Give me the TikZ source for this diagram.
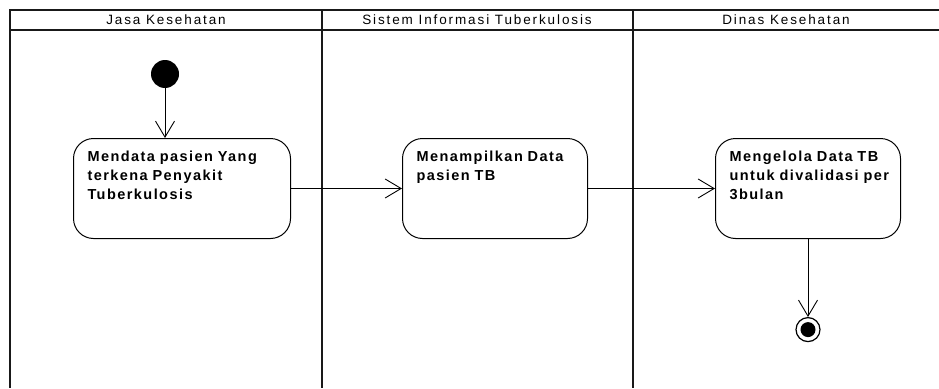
\documentclass[tikz,border=0pt]{standalone}
\usepackage{fontspec}
\setmainfont{Liberation Sans}
\newfontfamily\actfont[LetterSpace=10]{Liberation Sans}
\newfontfamily\lanefont[LetterSpace=14]{Liberation Sans}
\usetikzlibrary{positioning,arrows.meta}

\tikzset{
	lane/.style={line width=2.8pt, black!90},
	lanetitle/.style={font=\lanefont\fontsize{13.5}{15}\selectfont, inner sep=0pt},
	activity/.style={draw, line width=1pt, rounded corners=20pt, align=left,
		font=\actfont\bfseries\fontsize{14.5}{19}\selectfont,
		inner xsep=14pt, inner ysep=12pt, text height=10.5pt, text depth=65.5pt},
	startnode/.style={circle, fill=black, minimum size=28pt, inner sep=0pt},
	endnode/.style={circle, draw, line width=1.2pt, fill=white, minimum size=24pt, inner sep=0pt},
	flow/.style={-{Straight Barb[length=16pt,width=19pt]}, line width=0.9pt},
}

\begin{document}
\begin{tikzpicture}[x=1pt,y=-1pt]
	\useasboundingbox (0,0) rectangle (939,388);
	% swimlanes
	\draw[lane] (939,10) -- (10,10) -- (10,388);
	\draw[lane] (10,30) -- (939,30);
	\draw[lane] (322,10) -- (322,388);
	\draw[lane] (633,10) -- (633,388);
	\node[lanetitle] (jasa) at (166,20) {Jasa Kesehatan};
	\node[lanetitle] (sistem) at (477,20) {Sistem Informasi Tuberkulosis};
	\node[lanetitle] (dinas) at (786,20) {Dinas Kesehatan};
	%
	\node[startnode] (start) at (165,74) {};
	\node[activity, text width=189pt, anchor=north west] (mendata) at (73,138)
		{Mendata pasien Yang\\terkena Penyakit\\Tuberkulosis};
	\node[activity, text width=157pt, right=111pt of mendata] (tampil)
		{Menampilkan Data\\pasien TB};
	\node[activity, text width=157pt, right=127pt of tampil] (kelola)
		{Mengelola Data TB\\\mbox{untuk divalidasi per}\\3bulan};
	\node[endnode, below=78pt of kelola] (end) {};
	\fill (end) circle (7.5pt);
	%
	\draw[flow] (start) -- (start |- mendata.north);
	\draw[flow] (mendata) -- (tampil);
	\draw[flow] (tampil) -- (kelola);
	\draw[flow] (kelola) -- (end);
\end{tikzpicture}
\end{document}
